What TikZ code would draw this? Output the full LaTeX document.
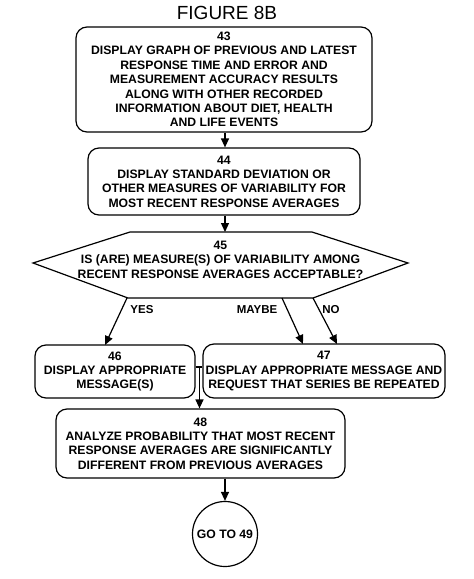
\documentclass[tikz,border=0pt]{standalone}
\usepackage{fontspec}
\setmainfont{Liberation Sans}
\usetikzlibrary{arrows.meta,calc}
\begin{document}
\begin{tikzpicture}[x=1pt,y=-1pt,
  box/.style={draw, line width=1.2pt, rounded corners=11pt, align=center,
    font=\fontsize{12.2}{14.4}\selectfont\bfseries, inner sep=0pt},
  arr/.style={line width=1.2pt, -{Triangle[length=9pt,width=8pt]}},
  ln/.style={line width=1.2pt},
  lbl/.style={font=\fontsize{11.5}{13}\selectfont\bfseries, inner sep=0pt}]
\useasboundingbox (0,0) rectangle (474,579);
\node[font=\fontsize{19}{22}\selectfont, inner sep=0pt] (title) at (227,13) {FIGURE 8B};
\node[box, minimum width=296pt, minimum height=105pt] (b43) at (224,79.5)
  {43\\DISPLAY GRAPH OF PREVIOUS AND LATEST\\RESPONSE TIME AND ERROR AND\\MEASUREMENT ACCURACY RESULTS\\ALONG WITH OTHER RECORDED\\INFORMATION ABOUT DIET, HEALTH\\AND LIFE EVENTS};
\node[box, minimum width=272pt, minimum height=67pt] (b44) at (224,181.5)
  {44\\DISPLAY STANDARD DEVIATION OR\\OTHER MEASURES OF VARIABILITY FOR\\MOST RECENT RESPONSE AVERAGES};
% decision 45
\node[align=center, font=\fontsize{12.2}{14.4}\selectfont\bfseries, inner sep=0pt] (d45) at (220.5,259.5)
  {45\\IS (ARE) MEASURE(S) OF VARIABILITY AMONG\\RECENT RESPONSE AVERAGES ACCEPTABLE?};
\coordinate (h1) at (130,232);
\coordinate (h2) at (312,232);
\coordinate (h3) at (408,263);
\coordinate (h4) at (313,298);
\coordinate (h5) at (128,298);
\coordinate (h6) at (33,263);
\draw[ln, line join=miter] (h1) -- (h2) -- (h3) -- (h4) -- (h5) -- (h6) -- cycle;
\node[box, minimum width=160pt, minimum height=53pt] (b46) at (115,371.5)
  {46\\DISPLAY APPROPRIATE\\MESSAGE(S)};
\node[box, minimum width=242pt, minimum height=54pt] (b47) at (324,371)
  {47\\DISPLAY APPROPRIATE MESSAGE AND\\REQUEST THAT SERIES BE REPEATED};
\node[box, minimum width=289pt, minimum height=69pt] (b48) at (200.5,443.5)
  {48\\ANALYZE PROBABILITY THAT MOST RECENT\\RESPONSE AVERAGES ARE SIGNIFICANTLY\\DIFFERENT FROM PREVIOUS AVERAGES};
\node[draw, circle, line width=1.2pt, minimum size=65pt, inner sep=0pt,
  font=\fontsize{12.2}{14.4}\selectfont\bfseries] (c49) at (225,534) {GO TO 49};
% connectors
\draw[arr] (b43.south -| 225,0) -- (b44.north -| 225,0);
\draw[arr] (b44.south -| 225,0) -- (h1 -| 225,0);
\coordinate (yesS) at (127,298);
\coordinate (yesE) at (105,345);
\coordinate (maybeS) at (282,298);
\coordinate (maybeE) at (303,344);
\coordinate (noS) at (313,298);
\coordinate (noE) at (337,344);
\draw[arr] (yesS) -- (yesE);
\draw[arr] (maybeS) -- (maybeE);
\draw[arr] (noS) -- (noE);
\node[lbl] (lyes) at (142,310) {YES};
\node[lbl] (lmaybe) at (257,310) {MAYBE};
\node[lbl] (lno) at (331,310) {NO};
\coordinate (j) at (199.5,367);
\draw[ln] (b46.east |- j) -- (b47.west |- j);
\draw[arr] (j) -- (j |- b48.north);
\draw[arr] (c49.north |- b48.south) -- (c49.north);
\end{tikzpicture}
\end{document}
